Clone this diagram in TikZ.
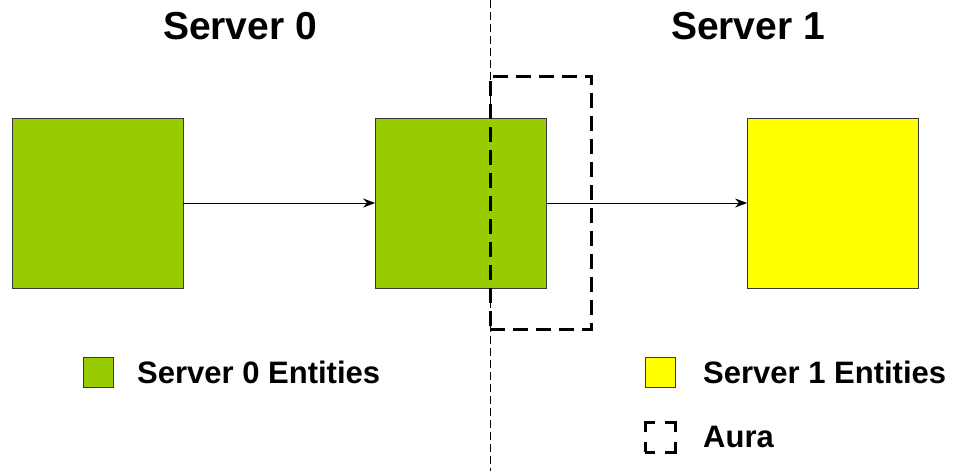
\documentclass[tikz,border=0pt]{standalone}
\usepackage{fontspec}
\setmainfont{Liberation Sans}
\usetikzlibrary{arrows.meta, positioning}
\definecolor{srvgreen}{HTML}{99CC00}
\definecolor{srvyellow}{HTML}{FFFF00}
\definecolor{edge}{HTML}{36393D}

\begin{document}
\begin{tikzpicture}[
    x=1pt, y=-1pt,
    entity/.style={draw=edge, line width=0.8pt, minimum width=171pt, minimum height=170pt, inner sep=0},
    swatch/.style={draw=edge, line width=0.8pt, minimum size=30pt, inner sep=0},
    title/.style={font=\bfseries\fontsize{39}{46}\selectfont, inner sep=0},
    lbl/.style={font=\bfseries\fontsize{31}{37}\selectfont, anchor=west, inner sep=0},
    arrow/.style={-{Stealth[length=12pt, width=9pt]}, line width=0.9pt},
    aurabox/.style={draw, line width=3pt, dash pattern={on 15pt off 8pt}, minimum width=101pt, minimum height=253pt, inner sep=0}
]
    \useasboundingbox (0,0) rectangle (959,471);

    % Titel
    \node[title] (t0) at (240,26) {Server 0};
    \node[title] (t1) at (748,26) {Server 1};

    % Trennlinie
    \coordinate (divtop) at (490,0);
    \coordinate (divbot) at (490,471);
    \draw[line width=0.8pt, dash pattern={on 8pt off 4pt}] (divtop) -- (divbot);

    % Entities
    \node[entity, fill=srvgreen] (e0) at (97.5,203) {};
    \node[entity, fill=srvgreen] (e1) at (461,203) {};
    \node[entity, fill=srvyellow] (e2) at (833,203) {};

    \node[aurabox] (aura) at (540.5,202.5) {};

    \draw[arrow] (e0.east) -- (e1.west);
    \draw[arrow] (e1.east) -- (e2.west);

    % Legende
    \node[swatch, fill=srvgreen] (k0) at (98,372) {};
    \node[lbl] (l0) at (137,372) {Server 0 Entities};
    \node[swatch, fill=srvyellow] (k1) at (660,372) {};
    \node[lbl] (l1) at (703,372) {Server 1 Entities};
    \node[draw, line width=3pt, dash pattern={on 20pt off 10pt}, dash phase=10pt, minimum size=30pt, inner sep=0] (k2) at (660,437) {};
    \node[lbl] (l2) at (703,437) {Aura};
\end{tikzpicture}
\end{document}
